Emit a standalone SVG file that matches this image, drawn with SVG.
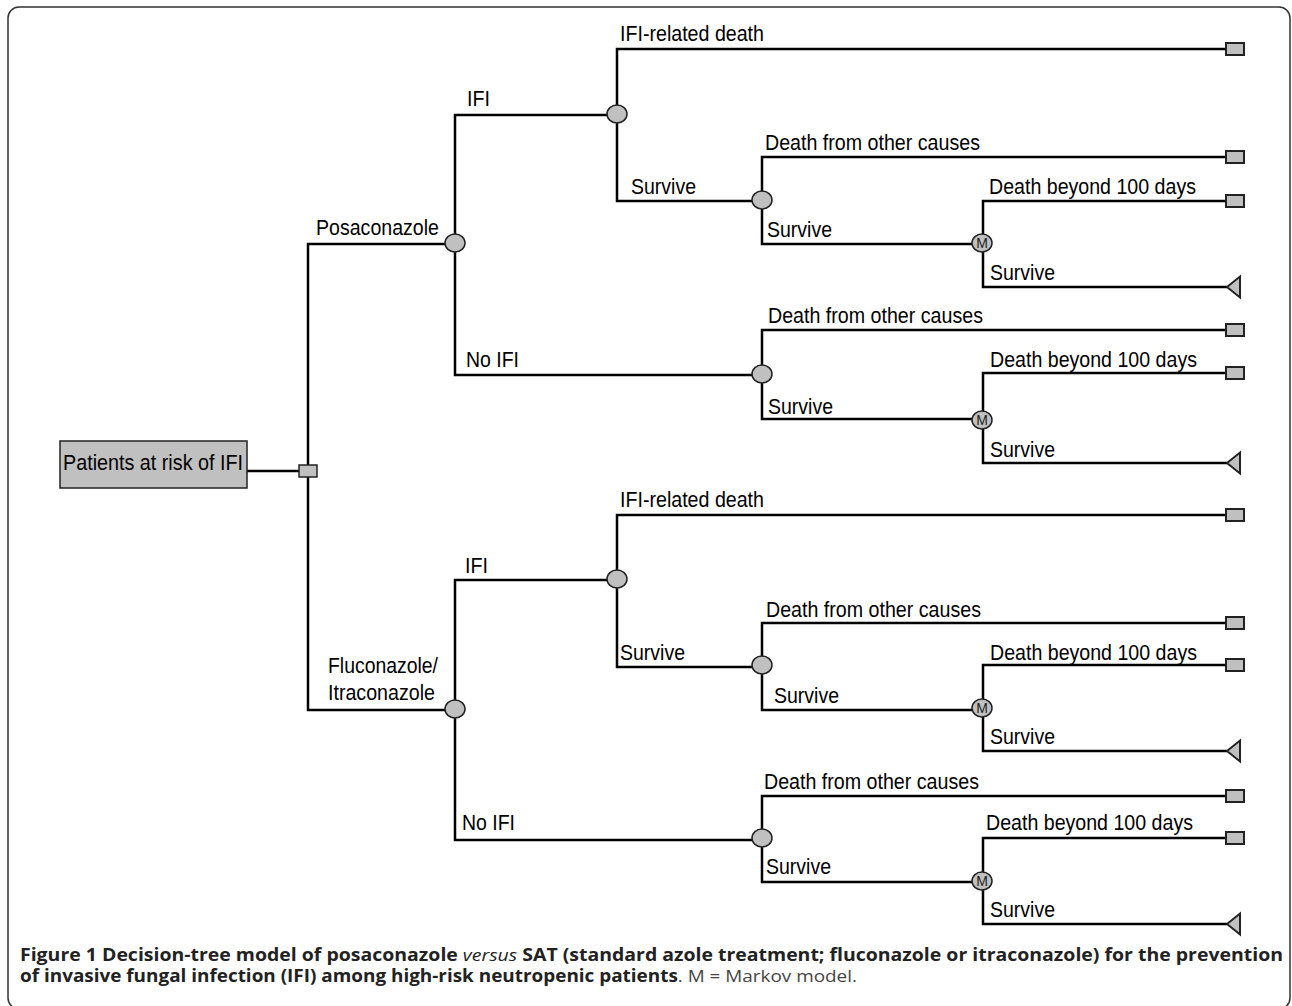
<svg xmlns="http://www.w3.org/2000/svg" width="1292" height="1006" viewBox="0 0 1292 1006">
<defs>
<style>
.ln{fill:none;stroke:#000;stroke-width:2.5}
.nd{fill:#c0c0c0;stroke:#222;stroke-width:1.5}
.tm{fill:#c0c0c0;stroke:#222;stroke-width:2}
.lb{font-family:"Liberation Sans",Arial,sans-serif;font-size:21.5px;fill:#000}
.mk{font-family:"Liberation Sans",Arial,sans-serif;font-size:14px;fill:#222}
.cb{font-family:"Open Sans","Liberation Sans",sans-serif;font-size:17px;font-weight:bold;fill:#222}
.cn{font-weight:normal;fill:#444}
</style>
</defs>
<rect width="1292" height="1006" fill="#fff"/>
<rect x="8" y="7" width="1282" height="1002" rx="11" fill="none" stroke="#333" stroke-width="1.5"/>

<g id="connectors">
<path class="ln" d="M247 471H299"/>
<path class="ln" d="M455 244H308V710H455"/>
<path class="ln" d="M617 115H455V375H762"/>
<path class="ln" d="M1226 49H617V201H762"/>
<path class="ln" d="M1226 157H762V244H982"/>
<path class="ln" d="M1226 201H983V287H1227"/>
<path class="ln" d="M1226 330H762V419H982"/>
<path class="ln" d="M1226 373H983V463H1227"/>
<path class="ln" d="M617 580H455V840H762"/>
<path class="ln" d="M1226 515H617V667H762"/>
<path class="ln" d="M1226 623H762V710H982"/>
<path class="ln" d="M1226 665H983V751H1227"/>
<path class="ln" d="M1226 796H762V882H982"/>
<path class="ln" d="M1226 838H983V924H1227"/>
</g>

<g id="labels" lengthAdjust="spacingAndGlyphs">
<text class="lb" x="316" y="235" textLength="123" lengthAdjust="spacingAndGlyphs">Posaconazole</text>
<text class="lb" x="467" y="106" textLength="23" lengthAdjust="spacingAndGlyphs">IFI</text>
<text class="lb" x="466" y="367" textLength="53" lengthAdjust="spacingAndGlyphs">No IFI</text>
<text class="lb" x="620" y="41" textLength="144" lengthAdjust="spacingAndGlyphs">IFI-related death</text>
<text class="lb" x="631" y="194" textLength="65" lengthAdjust="spacingAndGlyphs">Survive</text>
<text class="lb" x="765" y="150" textLength="215" lengthAdjust="spacingAndGlyphs">Death from other causes</text>
<text class="lb" x="767" y="237" textLength="65" lengthAdjust="spacingAndGlyphs">Survive</text>
<text class="lb" x="989" y="194" textLength="207" lengthAdjust="spacingAndGlyphs">Death beyond 100 days</text>
<text class="lb" x="990" y="280" textLength="65" lengthAdjust="spacingAndGlyphs">Survive</text>
<text class="lb" x="768" y="323" textLength="215" lengthAdjust="spacingAndGlyphs">Death from other causes</text>
<text class="lb" x="768" y="414" textLength="65" lengthAdjust="spacingAndGlyphs">Survive</text>
<text class="lb" x="990" y="367" textLength="207" lengthAdjust="spacingAndGlyphs">Death beyond 100 days</text>
<text class="lb" x="990" y="457" textLength="65" lengthAdjust="spacingAndGlyphs">Survive</text>
<text class="lb" x="328" y="673" textLength="110" lengthAdjust="spacingAndGlyphs">Fluconazole/</text>
<text class="lb" x="328" y="700" textLength="107" lengthAdjust="spacingAndGlyphs">Itraconazole</text>
<text class="lb" x="465" y="573" textLength="23" lengthAdjust="spacingAndGlyphs">IFI</text>
<text class="lb" x="462" y="830" textLength="53" lengthAdjust="spacingAndGlyphs">No IFI</text>
<text class="lb" x="620" y="507" textLength="144" lengthAdjust="spacingAndGlyphs">IFI-related death</text>
<text class="lb" x="620" y="660" textLength="65" lengthAdjust="spacingAndGlyphs">Survive</text>
<text class="lb" x="766" y="617" textLength="215" lengthAdjust="spacingAndGlyphs">Death from other causes</text>
<text class="lb" x="774" y="703" textLength="65" lengthAdjust="spacingAndGlyphs">Survive</text>
<text class="lb" x="990" y="660" textLength="207" lengthAdjust="spacingAndGlyphs">Death beyond 100 days</text>
<text class="lb" x="990" y="744" textLength="65" lengthAdjust="spacingAndGlyphs">Survive</text>
<text class="lb" x="764" y="789" textLength="215" lengthAdjust="spacingAndGlyphs">Death from other causes</text>
<text class="lb" x="766" y="874" textLength="65" lengthAdjust="spacingAndGlyphs">Survive</text>
<text class="lb" x="986" y="830" textLength="207" lengthAdjust="spacingAndGlyphs">Death beyond 100 days</text>
<text class="lb" x="990" y="917" textLength="65" lengthAdjust="spacingAndGlyphs">Survive</text>
</g>

<g id="root"><rect class="nd" x="60" y="441" width="187" height="47"/><text class="lb" x="63" y="470" textLength="180" lengthAdjust="spacingAndGlyphs">Patients at risk of IFI</text></g>
<g id="decision"><rect class="nd" x="299" y="465" width="18" height="12"/></g>

<g id="chance-posa"><ellipse class="nd" cx="455" cy="243" rx="10" ry="9"/></g>
<g id="chance-posa-ifi"><ellipse class="nd" cx="617" cy="114" rx="10" ry="9"/></g>
<g id="chance-posa-ifi-surv"><ellipse class="nd" cx="762" cy="200" rx="10" ry="9"/></g>
<g id="markov-1"><ellipse class="nd" cx="982" cy="243" rx="10" ry="9"/><text class="mk" x="982" y="248" text-anchor="middle">M</text></g>
<g id="chance-posa-noifi"><ellipse class="nd" cx="762" cy="374" rx="10" ry="9"/></g>
<g id="markov-2"><ellipse class="nd" cx="982" cy="420" rx="10" ry="9"/><text class="mk" x="982" y="425" text-anchor="middle">M</text></g>

<g id="chance-flu"><ellipse class="nd" cx="455" cy="709" rx="10" ry="9"/></g>
<g id="chance-flu-ifi"><ellipse class="nd" cx="617" cy="579" rx="10" ry="9"/></g>
<g id="chance-flu-ifi-surv"><ellipse class="nd" cx="762" cy="665" rx="10" ry="9"/></g>
<g id="markov-3"><ellipse class="nd" cx="982" cy="708" rx="10" ry="9"/><text class="mk" x="982" y="713" text-anchor="middle">M</text></g>
<g id="chance-flu-noifi"><ellipse class="nd" cx="762" cy="838" rx="10" ry="9"/></g>
<g id="markov-4"><ellipse class="nd" cx="982" cy="881" rx="10" ry="9"/><text class="mk" x="982" y="886" text-anchor="middle">M</text></g>

<g id="terminals">
<rect class="tm" x="1226" y="43" width="18" height="12"/>
<rect class="tm" x="1226" y="151" width="18" height="12"/>
<rect class="tm" x="1226" y="195" width="18" height="12"/>
<polygon class="tm" points="1227,287 1240,276.5 1240,297.5"/>
<rect class="tm" x="1226" y="324" width="18" height="12"/>
<rect class="tm" x="1226" y="367" width="18" height="12"/>
<polygon class="tm" points="1227,463 1240,452.5 1240,473.5"/>
<rect class="tm" x="1226" y="509" width="18" height="12"/>
<rect class="tm" x="1226" y="617" width="18" height="12"/>
<rect class="tm" x="1226" y="659" width="18" height="12"/>
<polygon class="tm" points="1227,751 1240,740.5 1240,761.5"/>
<rect class="tm" x="1226" y="790" width="18" height="12"/>
<rect class="tm" x="1226" y="832" width="18" height="12"/>
<polygon class="tm" points="1227,924 1240,913.5 1240,934.5"/>
</g>

<g id="caption">
<text class="cb" x="20" y="961" textLength="1263" lengthAdjust="spacingAndGlyphs">Figure 1 Decision-tree model of posaconazole <tspan font-style="italic" font-weight="normal">versus</tspan> SAT (standard azole treatment; fluconazole or itraconazole) for the prevention</text>
<text class="cb" x="20" y="982" textLength="837" lengthAdjust="spacingAndGlyphs">of invasive fungal infection (IFI) among high-risk neutropenic patients<tspan class="cn">. M = Markov model.</tspan></text>
</g>
</svg>
